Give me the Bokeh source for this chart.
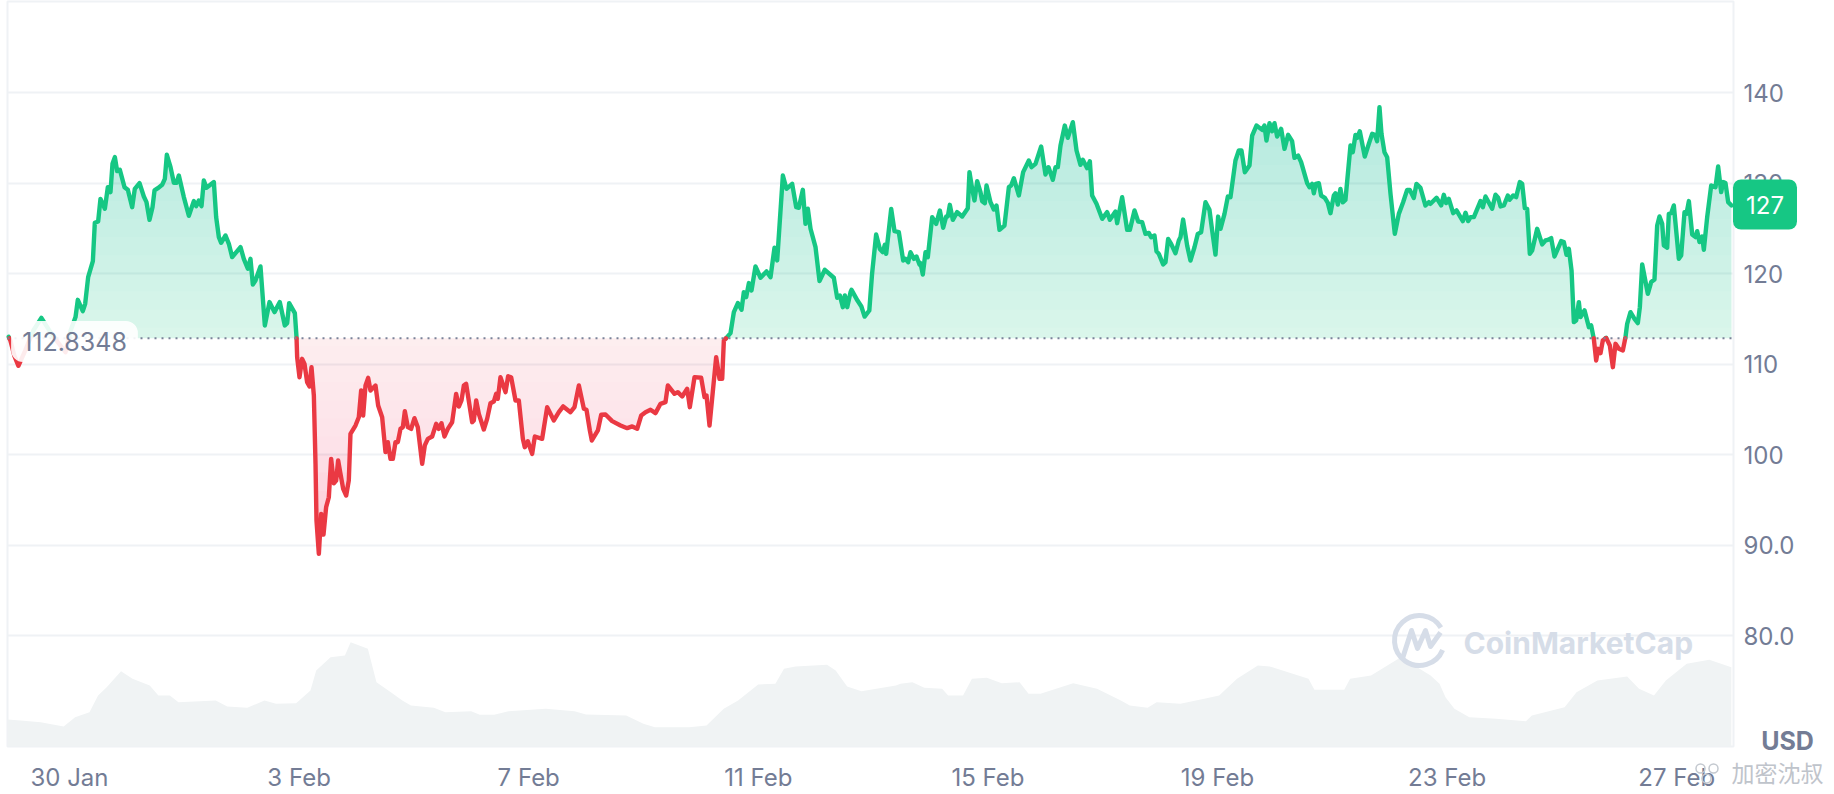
from bokeh.embed import file_html
from bokeh.layouts import column
from bokeh.models import FixedTicker, Label, Range1d, Span
from bokeh.plotting import figure
from bokeh.resources import INLINE
import numpy as np

# Days since 30 Jan, price in USD
price_days = [
-1.06,-1.03,-0.96,-0.89,-0.77,-0.63,-0.49,-0.33,-0.19,-0.07,0.02,
0.105,0.145,0.232,0.273,0.325,0.407,0.441,0.499,0.540,0.616,0.668,0.714,0.749,0.790,0.830,0.877,0.958,1.016,1.092,1.138,
1.220,1.295,1.341,1.394,1.446,1.481,1.539,1.614,1.661,1.696,1.760,1.818,1.864,1.905,1.992,2.079,2.166,2.207,2.253,2.300,
2.340,2.387,2.515,2.555,2.602,2.642,2.718,2.776,2.834,2.979,3.037,3.107,3.153,3.194,3.240,3.327,3.403,3.484,3.571,3.664,
3.751,3.792,3.827,3.926,3.955,
3.966,4.007,4.053,4.094,4.140,4.181,4.216,4.257,4.286,4.303,4.344,4.384,4.425,4.471,4.518,4.558,4.605,4.646,4.680,4.721,
4.768,4.820,4.866,4.895,4.982,5.040,5.081,5.116,5.157,5.203,5.244,5.331,5.377,5.447,5.505,5.546,5.592,5.633,5.679,5.720,
5.766,5.807,5.842,5.894,5.952,6.010,6.068,6.144,6.190,6.243,6.318,6.388,6.434,6.481,6.533,6.591,6.666,6.736,6.783,6.829,
6.870,6.910,7.015,7.044,7.085,7.131,7.218,7.276,7.334,7.392,7.433,7.462,7.508,7.596,7.642,7.694,7.770,7.828,7.898,7.932,
7.985,8.060,8.107,8.234,8.322,8.438,
8.525,8.601,8.728,8.798,8.874,8.961,9.007,9.065,9.10,9.205,9.263,9.338,9.454,9.600,9.716,9.803,9.890,9.960,10.035,10.122,
10.209,10.296,10.383,10.424,10.540,10.598,10.674,10.761,10.807,10.889,11.005,11.063,11.098,11.150,11.266,11.324,11.371,11.400,11.440,11.516,
11.574,11.644,11.708,11.748,11.789,11.836,11.882,11.951,12.039,12.143,12.213,12.282,12.329,12.428,12.491,12.590,12.660,12.706,12.776,12.822,
12.863,12.910,12.997,13.066,13.159,13.316,13.374,13.421,13.473,13.508,13.549,13.607,13.624,13.728,13.796,13.852,13.934,13.982,
14.053,14.117,14.170,14.204,14.228,14.315,14.373,14.448,14.524,14.564,14.611,14.651,14.710,14.756,14.808,14.826,14.866,14.913,14.953,15.029,
15.099,15.163,15.221,15.273,15.302,15.337,15.389,15.464,15.552,15.650,15.679,15.726,15.766,15.813,15.871,15.900,15.947,15.976,16.045,16.103,
16.150,16.202,16.289,16.365,16.405,16.452,16.539,16.614,16.713,16.760,16.829,16.928,17.003,17.056,17.131,17.178,17.218,17.265,17.340,17.392,
17.480,17.544,17.613,17.654,17.729,17.776,17.816,17.892,17.991,18.078,18.124,18.223,18.252,18.339,18.426,18.473,18.554,18.618,
18.687,18.745,18.803,18.844,18.902,18.937,18.978,19.053,19.094,19.140,19.192,19.268,19.326,19.355,19.401,19.471,19.529,19.599,19.657,19.715,
19.791,19.860,19.907,19.965,20.011,20.052,20.122,20.180,20.226,20.313,20.371,20.418,20.476,20.557,20.604,20.679,20.778,20.818,20.853,20.906,
20.952,20.993,21.039,21.109,21.167,21.231,21.300,21.341,21.405,21.457,21.562,21.602,21.649,21.678,21.713,21.765,21.806,21.870,21.922,21.968,
22.026,22.055,22.096,22.142,22.183,22.229,22.317,22.357,22.404,22.433,22.479,22.566,22.636,22.694,22.741,22.781,22.822,22.857,22.909,22.956,
23.014,23.089,23.159,23.234,23.304,23.350,23.420,23.466,23.536,23.623,23.681,
23.711,23.816,23.897,23.943,23.984,24.030,24.106,24.164,24.274,24.321,24.367,24.408,24.466,24.582,24.623,24.669,24.785,24.843,24.890,24.931,
24.989,25.058,25.087,25.151,25.203,25.267,25.308,25.354,25.395,25.441,25.482,25.569,25.656,25.714,25.755,25.813,25.871,25.987,26.034,26.080,
26.121,26.168,26.208,26.249,26.295,26.324,26.394,26.470,26.510,26.556,26.597,26.632,26.673,26.713,26.771,26.835,26.888,26.934,26.992,27.062,
27.108,27.137,27.195,27.265,27.323,27.358,27.399,27.497,27.555,27.613,27.660,27.700,27.747,27.776,27.834,27.863,27.904,27.950,28.037,28.078,
28.136,28.171,28.212,28.270,28.328,28.357,28.397,28.444,28.473,28.531,28.601,28.676,28.722,28.775,28.810,28.850,28.897,28.955]

price_values = [
113.0,112.6,110.9,109.8,111.5,113.7,115.1,113.5,112.3,111.3,113.7,
115.18,117.09,115.84,116.65,119.60,121.37,125.60,125.75,128.25,127.15,129.54,128.99,132.12,132.86,131.31,131.46,129.54,129.25,127.33,129.36,
129.99,128.51,127.89,125.93,127.33,129.18,129.43,129.80,130.46,133.12,131.75,130.02,130.02,130.83,128.44,126.38,128.00,127.44,128.07,127.44,
130.28,129.47,130.10,126.23,124.02,123.39,124.20,123.28,121.81,122.91,121.62,120.52,121.62,118.79,119.23,120.78,114.26,116.84,115.73,116.84,
114.26,114.52,116.73,115.62,112.97,
110.75,108.54,110.57,110.02,107.99,107.51,109.65,106.52,98.97,92.71,89.02,93.44,91.16,94.18,95.28,99.52,96.83,97.13,99.34,97.86,
96.20,95.47,97.13,102.28,103.20,104.12,107.07,104.31,107.62,108.47,107.07,107.62,105.41,104.12,100.26,101.36,99.52,99.52,101.36,101.36,
102.83,103.02,104.79,103.02,102.83,104.01,103.02,98.97,101.01,101.73,101.99,103.39,102.83,103.46,101.99,102.83,103.57,106.70,105.30,105.97,
107.62,107.81,103.57,103.76,105.97,104.49,102.76,103.94,105.67,105.85,106.70,106.15,108.54,106.89,108.65,108.54,105.97,105.97,101.73,100.81,
101.47,100.07,101.99,101.73,105.23,103.76,
104.68,105.31,104.68,105.23,107.63,105.05,104.94,102.66,101.55,102.66,104.39,104.42,103.69,103.21,102.91,103.10,102.84,104.31,104.68,104.94,
104.57,105.60,105.79,107.63,106.71,106.89,106.41,107.26,105.23,108.55,108.48,106.34,106.52,103.21,110.76,108.36,108.36,112.60,112.86,113.41,
115.73,116.73,115.99,117.94,117.39,118.94,118.13,120.78,119.53,120.23,119.60,122.84,121.44,130.83,129.36,129.91,127.33,127.26,129.25,125.49,
127.15,124.94,122.91,119.16,120.41,119.53,117.32,117.57,116.28,117.57,116.28,117.94,118.19,117.01,116.35,115.24,115.91,119.96,
124.31,122.72,122.36,123.17,122.17,127.14,124.68,124.57,121.44,121.62,121.25,122.36,121.62,121.88,121.00,121.14,119.89,122.36,121.80,126.22,
125.49,126.96,125.05,126.30,126.30,127.59,125.93,126.78,126.30,127.22,131.20,129.35,128.07,130.20,128.99,127.99,127.77,129.72,127.88,127.07,
127.51,124.82,125.30,129.54,129.72,130.53,128.62,131.20,132.49,131.75,132.12,134.03,130.94,131.75,130.35,131.75,131.75,134.14,136.35,134.99,
136.72,133.59,132.01,132.56,131.64,132.41,128.62,127.70,126.04,126.78,125.93,126.85,125.56,128.43,124.82,124.82,126.96,125.74,
125.67,124.38,124.49,124.01,124.19,122.46,122.17,120.99,121.25,123.82,123.27,122.24,123.64,124.01,125.96,123.09,121.43,122.90,124.38,124.56,
127.88,127.03,124.75,122.09,126.29,124.93,126.59,128.50,128.43,132.48,133.59,133.59,131.19,131.93,135.24,136.35,135.87,136.35,134.69,136.61,
135.72,136.61,135.13,135.98,133.77,135.32,134.62,132.78,133.03,132.30,129.98,129.53,129.90,128.87,129.90,129.98,128.61,128.36,127.80,126.66,
128.61,128.87,127.62,129.35,127.87,128.13,134.14,133.40,135.32,134.98,135.72,132.92,134.32,135.43,135.32,134.62,138.37,135.43,133.40,132.85,
128.80,124.38,126.59,127.87,129.24,129.24,128.35,129.90,129.46,127.51,127.88,
127.70,128.37,127.52,128.70,127.78,128.25,126.67,126.97,125.79,126.71,125.79,126.23,126.23,128.00,127.33,128.51,127.15,128.70,128.37,127.41,
127.52,128.62,128.14,128.62,128.44,130.10,129.91,127.22,127.15,122.18,122.55,124.94,123.21,123.65,123.72,123.91,121.88,123.58,123.47,122.07,
122.73,120.34,114.63,114.81,116.84,115.18,115.92,114.07,114.26,112.78,110.39,111.68,111.20,112.60,112.89,112.05,109.65,112.23,111.68,111.50,
112.97,114.44,115.73,114.99,114.52,116.28,121.00,117.76,119.05,119.34,125.31,126.30,125.49,123.10,122.84,126.60,126.67,127.52,121.63,121.99,
126.78,126.60,128.00,124.31,124.02,124.68,123.47,124.09,122.62,126.23,129.73,129.54,131.83,128.99,130.10,129.99,127.89,127.52]

# Traded volume (arbitrary units)
volume_days = [
-1.082,-0.852,-0.502,-0.102,0.098,0.348,0.498,0.648,0.898,1.098,1.398,1.548,1.748,1.898,2.548,2.748,3.098,3.398,3.598,3.948,
4.198,4.298,4.548,4.798,4.898,5.198,5.348,5.598,5.798,5.948,6.348,6.548,6.998,7.148,7.398,7.648,8.298,8.798,8.998,9.698,
9.998,10.198,10.798,11.098,11.398,11.648,11.998,12.298,12.448,12.648,13.198,13.348,13.548,13.798,14.398,
14.477,14.685,14.892,15.203,15.307,15.567,15.722,15.982,16.241,16.552,16.708,16.916,17.486,17.901,18.316,18.472,18.783,18.939,19.354,19.769,
20.029,20.340,20.703,20.910,21.585,21.689,22.208,22.311,22.675,23.194,23.712,23.868,23.972,24.127,24.387,24.854,25.373,25.477,26.047,26.255,
26.618,27.137,27.344,27.604,27.811,28.174,28.568,28.952]
volume_values = [
27,26,24.3,20,29.3,34.3,51,59.3,75.3,67.7,61,51,51,44.3,46,40,38.7,46,42.7,43.3,
56,76,89.3,91,104.3,97.7,64.3,54.3,46,41,38.7,34.3,35.3,31.7,31.7,35.3,37.7,35.3,32,31,
22.7,19.3,19.3,21,37.7,46,62,62.7,77.7,80,81.7,76,60,55.3,61,
62.7,64.3,58.7,57.7,51,51,67.7,68.7,63.3,64.3,52.7,52.7,63.3,57.7,46,41,38.7,44.3,42.7,47.7,
51,67.7,81,80,67.7,56.7,56.7,67.7,71,89.3,71,62.7,49.3,37.7,29.3,27.7,25.3,31,39.3,54.3,
66,70,57.7,51,66,82.7,86.7,79.3]

base_price = 112.8348
last_price = "127"
price_ticks = [80, 90, 100, 110, 120, 130, 140]
price_tick_labels = ["80.0", "90.0", "100", "110", "120", "130", "140"]
date_ticks = [0, 4, 8, 12, 16, 20, 24, 28]
date_tick_labels = ["30 Jan", "3 Feb", "7 Feb", "11 Feb", "15 Feb", "19 Feb", "23 Feb", "27 Feb"]

GREEN, RED = "#16c784", "#ea3943"
TEXT = "#737c95"
GRID = "#eff2f5"
FONT = "Inter"


def at_x(px):
    return (px - 69) / 57.4


def at_y(px):
    return 110 + (363.5 - px) / 9.05


p = figure(
    width=1834, height=794, output_backend="svg", toolbar_location=None,
    x_range=Range1d(at_x(7), at_x(1733)), y_range=Range1d(at_y(746), at_y(1)),
    y_axis_location="right", min_border_left=7, min_border_right=101,
    min_border_top=1, min_border_bottom=48, margin=(0, 0, 0, 0),
    background_fill_color="white", border_fill_color="white",
)
p.outline_line_color = GRID
p.outline_line_width = 2
p.xgrid.visible = False
p.ygrid.grid_line_color = GRID
p.ygrid.grid_line_width = 2

for ax in (p.xaxis[0], p.yaxis[0]):
    ax.axis_line_color = None
    ax.major_tick_line_color = None
    ax.minor_tick_line_color = None
    ax.major_tick_out = 0
    ax.major_tick_in = 0
    ax.minor_tick_out = 0
    ax.minor_tick_in = 0
    ax.major_label_text_color = TEXT
    ax.major_label_text_font = FONT
    ax.major_label_text_font_size = "24px"
p.xaxis[0].ticker = FixedTicker(ticks=date_ticks)
p.xaxis[0].major_label_overrides = dict(zip(date_ticks, date_tick_labels))
p.xaxis[0].major_label_standoff = 16
p.yaxis[0].ticker = FixedTicker(ticks=price_ticks)
p.yaxis[0].major_label_overrides = dict(zip(price_ticks, price_tick_labels))
p.yaxis[0].major_label_standoff = 10

# Volume band on its own hidden scale
p.extra_y_ranges = {"volume": Range1d(0, 745)}
p.varea(volume_days, 0, volume_values, y_range_name="volume", fill_color="#f0f3f4")

# Insert the crossings of the base price so that the colours split exactly
xs, ys = [price_days[0]], [price_values[0]]
for d, v in zip(price_days[1:], price_values[1:]):
    if (ys[-1] - base_price) * (v - base_price) < 0:
        t = (base_price - ys[-1]) / (v - ys[-1])
        xs.append(xs[-1] + t * (d - xs[-1]))
        ys.append(base_price)
    xs.append(d)
    ys.append(v)
xs, ys = np.array(xs), np.array(ys)

# Vertical gradients, built from stacked faint layers
p.varea(xs, base_price, np.maximum(ys, base_price), fill_color=GREEN, fill_alpha=0.16)
for level in range(114, 139, 2):
    p.varea(xs, level, np.maximum(ys, level), fill_color=GREEN, fill_alpha=0.013)
p.varea(xs, np.minimum(ys, base_price), base_price, fill_color=RED, fill_alpha=0.085)
for level in range(112, 88, -2):
    p.varea(xs, np.minimum(ys, level), level, fill_color=RED,
            fill_alpha=0.007 if level > 100 else 0.022)

seg_x = {GREEN: [], RED: []}
seg_y = {GREEN: [], RED: []}
cur_x, cur_y = [xs[0]], [ys[0]]
cur_col = GREEN if ys[0] >= base_price else RED
for d, v in zip(xs[1:], ys[1:]):
    cur_x.append(d)
    cur_y.append(v)
    if v == base_price:
        seg_x[cur_col].append(cur_x)
        seg_y[cur_col].append(cur_y)
        cur_x, cur_y = [d], [v]
        cur_col = RED if cur_col == GREEN else GREEN
seg_x[cur_col].append(cur_x)
seg_y[cur_col].append(cur_y)
p.add_layout(Span(location=base_price, dimension="width", line_color="#7a8299",
                  line_width=2, line_dash=[2, 5], level="annotation"))
for col in (GREEN, RED):
    p.multi_line(seg_x[col], seg_y[col], line_color=col, line_width=4.4,
                 line_join="round", line_cap="round", level="annotation")

# Transparent layer over the whole picture, for the badges and the watermarks.
# Its frame lines up with the chart's left edge, so its scale starts 7 px on.
top = figure(
    width=1834, height=794, frame_width=1834, frame_height=794,
    output_backend="svg", toolbar_location=None,
    x_range=Range1d(7, 1841), y_range=Range1d(794, 0),
    x_axis_location=None, y_axis_location=None,
    min_border=0, min_border_left=0, min_border_right=0, min_border_top=0, min_border_bottom=0,
    margin=(-794, 0, 0, 0), background_fill_alpha=0, border_fill_alpha=0,
)
top.grid.visible = False
top.outline_line_color = None

LOGO = "#d6dde8"
top.arc([1419], [640], radius=25, radius_units="screen", start_angle=-2.6 + 3.1416,
        end_angle=2.75 + 3.1416, line_color=LOGO, line_width=5, direction="anticlock")
top.line([1402, 1411, 1417, 1425, 1430, 1440], [658, 630, 648, 630, 646, 632],
         line_color=LOGO, line_width=5, line_join="round")
top.add_layout(Label(x=1463, y=642, text="CoinMarketCap", text_color=LOGO, text_font=FONT,
                     text_font_size="30px", text_font_style="bold",
                     text_baseline="middle", text_align="left"))
top.add_layout(Label(x=74, y=341, text=f"{base_price:.4f}", text_color=TEXT, text_font=FONT,
                     text_font_size="25px", text_align="center", text_baseline="middle",
                     background_fill_color="white", background_fill_alpha=0.9, padding=11,
                     border_radius=12))
top.add_layout(Label(x=1764.5, y=204, text=last_price, text_color="white", text_font=FONT,
                     text_font_size="24px", text_align="center", text_baseline="middle",
                     background_fill_color=GREEN, padding=(13, 16), border_radius=8))
top.add_layout(Label(x=1787, y=740, text="USD", text_color=TEXT, text_font=FONT,
                     text_font_size="25px", text_font_style="bold", text_align="center",
                     text_baseline="middle"))
top.add_layout(Label(x=1777, y=771, text="加密沈叔", text_color="#bfc4cb",
                     text_font="Noto Sans CJK SC", text_font_size="23px", text_align="center",
                     text_baseline="middle"))
top.scatter([1700, 1713, 1706], [768, 768, 778], marker="circle", size=9, fill_alpha=0,
            line_color="#c3c8cf", line_width=1.5)

open("out.html", "w").write(file_html(column(p, top, spacing=0), INLINE))
